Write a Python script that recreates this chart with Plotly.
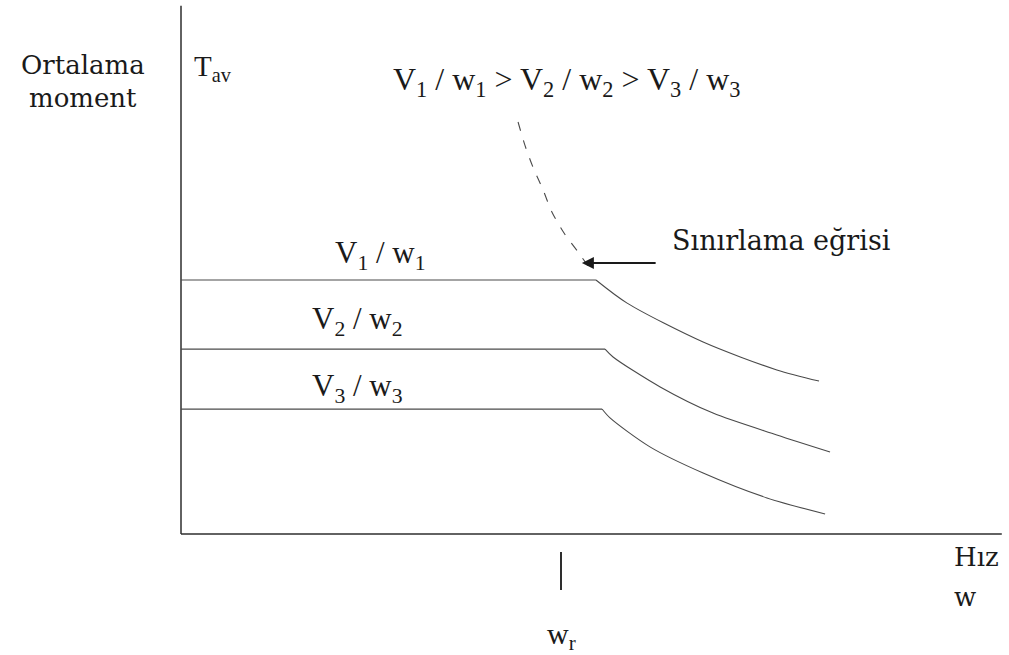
import plotly.graph_objects as go

# Speed in units of rated speed w_r, torque in units of the V1/w1 plateau
speed_axis_end = 2.16
torque_axis_end = 2.08
w_rated = 1.0

# Average-torque curves for three V/w ratios: constant region, then field weakening
curve1_w = [0.0, 1.092, 1.174, 1.374, 1.568, 1.679]
curve1_T = [1.000, 1.000, 0.909, 0.756, 0.646, 0.602]
curve2_w = [0.0, 1.116, 1.137, 1.261, 1.400, 1.568, 1.708]
curve2_T = [0.728, 0.728, 0.697, 0.579, 0.476, 0.390, 0.323]
curve3_w = [0.0, 1.108, 1.129, 1.234, 1.374, 1.542, 1.695]
curve3_T = [0.492, 0.492, 0.457, 0.343, 0.240, 0.142, 0.079]

# Limiting curve (dashed)
limit_w = [0.887, 0.905, 0.926, 0.953, 0.976, 1.008, 1.047, 1.084]
limit_T = [1.622, 1.531, 1.445, 1.354, 1.268, 1.185, 1.106, 1.028]

curve_labels = ["V<sub>1</sub> / w<sub>1</sub>",
                "V<sub>2</sub> / w<sub>2</sub>",
                "V<sub>3</sub> / w<sub>3</sub>"]

px_per_w = 380.0
px_per_T = 254.0
W, H = 1009, 655
ox, oy = 181.0, 534.0
x_range = [-ox / px_per_w, (W - ox) / px_per_w]
y_range = [-(H - oy) / px_per_T, oy / px_per_T]

line_col = "#4a4a4a"
axis_col = "#2e2e2e"
serif_wide = "DejaVu Serif"
serif = "Liberation Serif"

fig = go.Figure()

# Axes
fig.add_trace(go.Scatter(x=[0, speed_axis_end], y=[0, 0], mode="lines",
                         line=dict(color=axis_col, width=1.5), hoverinfo="skip"))
fig.add_trace(go.Scatter(x=[0, 0], y=[0, torque_axis_end], mode="lines",
                         line=dict(color=axis_col, width=1.5), hoverinfo="skip"))

for xs, ys in [(curve1_w, curve1_T), (curve2_w, curve2_T), (curve3_w, curve3_T)]:
    # flat (constant torque) part
    fig.add_trace(go.Scatter(x=xs[:2], y=ys[:2], mode="lines",
                             line=dict(color=line_col, width=1.2), hoverinfo="skip"))
    # decaying part beyond the knee
    fig.add_trace(go.Scatter(x=xs[1:], y=ys[1:], mode="lines",
                             line=dict(color=line_col, width=1.1, shape="spline", smoothing=0.8),
                             hoverinfo="skip"))

fig.add_trace(go.Scatter(x=limit_w, y=limit_T, mode="lines",
                         line=dict(color=line_col, width=1.1, dash="9px,10px",
                                   shape="spline", smoothing=0.8),
                         hoverinfo="skip"))

# Rated-speed marker below the axis
fig.add_trace(go.Scatter(x=[w_rated, w_rated], y=[-0.071, -0.220], mode="lines",
                         line=dict(color=axis_col, width=2), hoverinfo="skip"))

annotations = [
    dict(x=-0.258, y=1.846, text="Ortalama", font=dict(family=serif_wide, size=26)),
    dict(x=-0.258, y=1.718, text="moment", font=dict(family=serif_wide, size=26)),
    dict(x=0.029, y=1.835, text="T<sub>av</sub>", xanchor="left",
         font=dict(family=serif, size=29)),
    dict(x=0.552, y=1.78, xanchor="left", text=" > ".join(curve_labels),
         font=dict(family=serif, size=32)),
    dict(x=0.40, y=1.10, xanchor="left", text=curve_labels[0], font=dict(family=serif, size=31)),
    dict(x=0.339, y=0.84, xanchor="left", text=curve_labels[1], font=dict(family=serif, size=31)),
    dict(x=0.339, y=0.575, xanchor="left", text=curve_labels[2], font=dict(family=serif, size=31)),
    dict(x=1.287, y=1.154, xanchor="left", text="Sınırlama eğrisi",
         font=dict(family=serif_wide, size=27)),
    dict(x=2.03, y=-0.091, xanchor="left", text="Hız", font=dict(family=serif_wide, size=26)),
    dict(x=2.03, y=-0.248, xanchor="left", text="w", font=dict(family=serif_wide, size=26)),
    dict(x=w_rated, y=-0.40, text="w<sub>r</sub>", font=dict(family=serif, size=30)),
]
for a in annotations:
    a.setdefault("xanchor", "center")
    a.update(xref="x", yref="y", showarrow=False, yanchor="middle",
             font=dict(color="#1a1a1a", **a["font"]))
    fig.add_annotation(**a)

# Arrow pointing to the limiting curve
fig.add_annotation(x=1.055, y=1.067, ax=1.253, ay=1.067, xref="x", yref="y",
                   axref="x", ayref="y", text="", showarrow=True,
                   arrowhead=2, arrowsize=1.2, arrowwidth=2, arrowcolor="#1a1a1a")

fig.update_layout(
    width=W, height=H, margin=dict(l=0, r=0, t=0, b=0),
    paper_bgcolor="white", plot_bgcolor="white", showlegend=False,
    xaxis=dict(range=x_range, visible=False, fixedrange=True),
    yaxis=dict(range=y_range, visible=False, fixedrange=True),
)

fig.write_html("out.html", config={"displayModeBar": False})
